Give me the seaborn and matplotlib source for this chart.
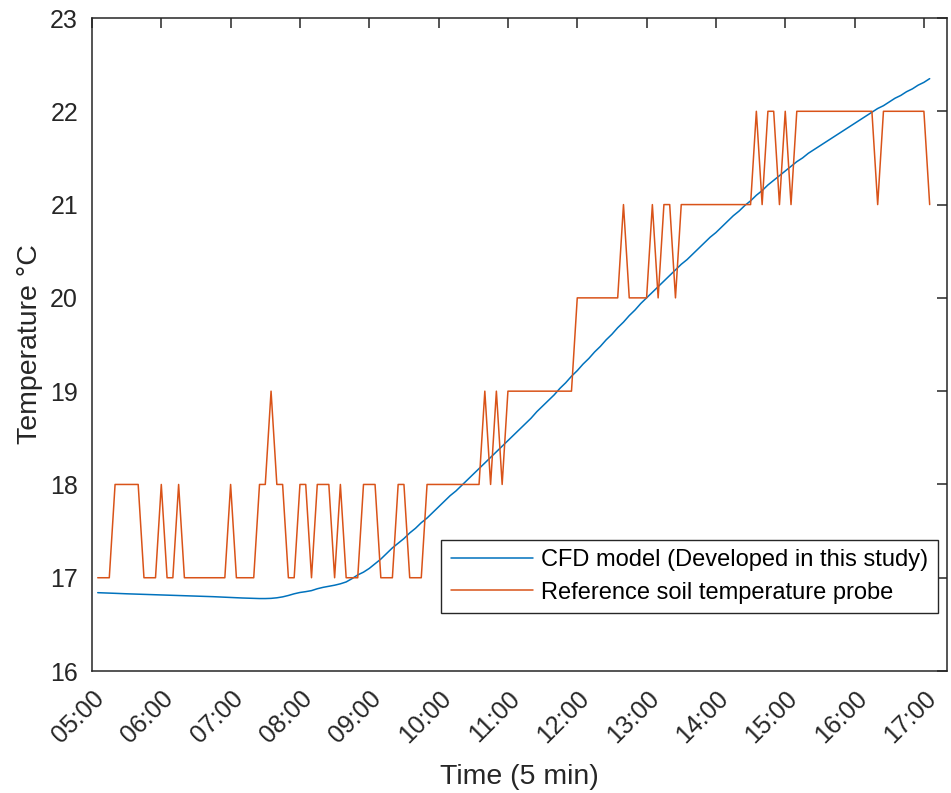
import numpy as np
import pandas as pd
import matplotlib
matplotlib.use("Agg")
import matplotlib.pyplot as plt
import seaborn as sns

# ---- data (5-min steps, minutes after 05:00) ----
step_index = list(range(1, 146))
cfd_model = [
    16.84, 16.838, 16.835, 16.833, 16.83, 16.828, 16.826, 16.824, 16.822, 16.82,
    16.818, 16.816, 16.814, 16.812, 16.81, 16.808, 16.806, 16.804, 16.802, 16.80,
    16.797, 16.794, 16.791, 16.788, 16.785, 16.783, 16.781, 16.779, 16.777, 16.777,
    16.779, 16.785, 16.795, 16.81, 16.828, 16.842, 16.851, 16.862, 16.882, 16.897,
    16.908, 16.92, 16.935, 16.955, 16.99, 17.03, 17.06, 17.10, 17.15, 17.20,
    17.26, 17.32, 17.37, 17.42, 17.48, 17.53, 17.59, 17.64, 17.70, 17.76,
    17.82, 17.88, 17.93, 17.99, 18.05, 18.11, 18.17, 18.23, 18.29, 18.35,
    18.41, 18.47, 18.53, 18.59, 18.65, 18.71, 18.78, 18.84, 18.90, 18.96,
    19.03, 19.09, 19.16, 19.22, 19.29, 19.35, 19.42, 19.48, 19.55, 19.61,
    19.68, 19.74, 19.81, 19.87, 19.94, 20.00, 20.06, 20.12, 20.18, 20.24,
    20.30, 20.36, 20.41, 20.47, 20.53, 20.59, 20.65, 20.70, 20.76, 20.82,
    20.88, 20.93, 20.99, 21.04, 21.10, 21.15, 21.21, 21.26, 21.31, 21.36,
    21.41, 21.46, 21.50, 21.55, 21.59, 21.63, 21.67, 21.71, 21.75, 21.79,
    21.83, 21.87, 21.91, 21.95, 21.99, 22.03, 22.06, 22.10, 22.14, 22.17,
    22.21, 22.24, 22.28, 22.31, 22.35,
]
probe = [
    17, 17, 17, 18, 18, 18, 18, 18, 17, 17,
    17, 18, 17, 17, 18, 17, 17, 17, 17, 17,
    17, 17, 17, 18, 17, 17, 17, 17, 18, 18,
    19, 18, 18, 17, 17, 18, 18, 17, 18, 18,
    18, 17, 18, 17, 17, 17, 18, 18, 18, 17,
    17, 17, 18, 18, 17, 17, 17, 18, 18, 18,
    18, 18, 18, 18, 18, 18, 18, 19, 18, 19,
    18, 19, 19, 19, 19, 19, 19, 19, 19, 19,
    19, 19, 19, 20, 20, 20, 20, 20, 20, 20,
    20, 21, 20, 20, 20, 20, 21, 20, 21, 21,
    20, 21, 21, 21, 21, 21, 21, 21, 21, 21,
    21, 21, 21, 21, 22, 21, 22, 22, 21, 22,
    21, 22, 22, 22, 22, 22, 22, 22, 22, 22,
    22, 22, 22, 22, 22, 21, 22, 22, 22, 22,
    22, 22, 22, 22, 21,
]
tick_labels = ["05:00", "06:00", "07:00", "08:00", "09:00", "10:00", "11:00",
               "12:00", "13:00", "14:00", "15:00", "16:00", "17:00"]
y_ticks = [16, 17, 18, 19, 20, 21, 22, 23]
series_names = ["CFD model (Developed in this study)", "Reference soil temperature probe"]
colors = ["#0072BD", "#D95319"]

minutes = [5 * i for i in step_index]
df = pd.DataFrame({
    "minutes": minutes * 2,
    "temp": cfd_model + probe,
    "series": [series_names[0]] * len(minutes) + [series_names[1]] * len(minutes),
})

sns.set_style("white")
plt.rcParams["font.family"] = ["Liberation Sans", "DejaVu Sans"]
TXT = "#262626"

fig = plt.figure(figsize=(9.51, 7.93), dpi=100)
ax = fig.add_axes([0.0967, 0.1538, 0.8991, 0.8235])

sns.lineplot(data=df, x="minutes", y="temp", hue="series", palette=colors,
             hue_order=series_names, linewidth=1.1, ax=ax, estimator=None,
             sort=False)

ax.set_xlim(0, 740)
ax.set_ylim(16, 23)
ax.set_xticks([60 * i for i in range(len(tick_labels))])
ax.set_xticklabels(tick_labels, rotation=45, ha="right", va="top",
                   rotation_mode="anchor")
ax.set_yticks(y_ticks)
ax.tick_params(axis="both", direction="in", length=7, width=1.1, colors=TXT,
               labelsize=18, top=True, right=True)
ax.tick_params(axis="x", pad=11)
ax.tick_params(axis="y", pad=10)
for sp in ax.spines.values():
    sp.set_visible(True)
    sp.set_color(TXT)
    sp.set_linewidth(1.1)

ax.set_xlabel("Time (5 min)", fontsize=20.5, color=TXT, labelpad=12)
ax.set_ylabel("Temperature °C", fontsize=20.5, color=TXT, labelpad=5)

leg = ax.legend(loc="lower right", bbox_to_anchor=(0.9895, 0.0888),
                borderaxespad=0, fontsize=17, frameon=True, fancybox=False,
                handlelength=3.5, handletextpad=0.34, borderpad=0.4,
                labelspacing=0.45, title=None)
leg.get_frame().set_edgecolor(TXT)
leg.get_frame().set_linewidth(1.0)
leg.get_frame().set_alpha(1)
for t in leg.get_texts():
    t.set_color("black")

fig.savefig("out.png", dpi=100)
